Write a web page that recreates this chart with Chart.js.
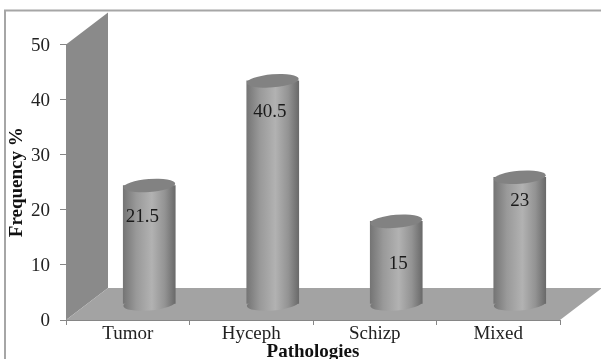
<!DOCTYPE html>
<html>
<head>
<meta charset="utf-8">
<style>
html, body { margin: 0; background: #fff; }
#wrap { position: relative; width: 601px; height: 359px; overflow: hidden; }
</style>
<script src="https://cdn.jsdelivr.net/npm/chart.js@4"></script>
</head>
<body>
<div id="wrap"><canvas id="chart" width="601" height="359"></canvas></div>
<script>
const categories = ['Tumor', 'Hyceph', 'Schizp', 'Mixed'];
const frequency = [21.5, 40.5, 15, 23];
const yTicks = [0, 10, 20, 30, 40, 50];

// pseudo-3D box: how far the back wall sits from the axes
const DEPTH_X = 42;
const DEPTH_Y = -32;
// columns stand in the middle of the floor
const COL_DX = 21.5;
const COL_DY = -16;
const COL_W = 52;
const COL_RY = 6.5;
const COL_TILT = -0.08;

// value labels are hand placed inside each column, relative to its top
const labelNudge = [[-7, 31], [-3, 31], [2, 43], [0, 24]];

function columnGradient(ctx, cx) {
    const g = ctx.createLinearGradient(cx - COL_W / 2, 0, cx + COL_W / 2, 0);
    g.addColorStop(0, '#757575');
    g.addColorStop(0.25, '#999999');
    g.addColorStop(0.55, '#b2b2b2');
    g.addColorStop(0.8, '#939393');
    g.addColorStop(1, '#6a6a6a');
    return g;
}

const box3d = {
    id: 'box3d',
    beforeDraw(chart) {
        const { ctx } = chart;
        // outer frame
        ctx.strokeStyle = '#a6a6a6';
        ctx.lineWidth = 2;
        ctx.strokeRect(5, 10.5, 640, 400);
    },
    beforeDatasetsDraw(chart) {
        const { ctx, chartArea: a } = chart;
        // left wall
        ctx.fillStyle = '#8a8a8a';
        ctx.beginPath();
        ctx.moveTo(a.left, a.top);
        ctx.lineTo(a.left + DEPTH_X, a.top + DEPTH_Y);
        ctx.lineTo(a.left + DEPTH_X, a.bottom + DEPTH_Y);
        ctx.lineTo(a.left, a.bottom);
        ctx.closePath();
        ctx.fill();
        // floor
        ctx.fillStyle = '#a3a3a3';
        ctx.beginPath();
        ctx.moveTo(a.left, a.bottom);
        ctx.lineTo(a.left + DEPTH_X, a.bottom + DEPTH_Y);
        ctx.lineTo(a.right + DEPTH_X, a.bottom + DEPTH_Y);
        ctx.lineTo(a.right, a.bottom);
        ctx.closePath();
        ctx.fill();
    },
    beforeDatasetDraw(chart) {
        const { ctx, scales } = chart;
        const base = scales.y.getPixelForValue(0);
        ctx.save();
        ctx.translate(COL_DX, COL_DY);
        // round the foot of each column before the bar body goes on top
        chart.getDatasetMeta(0).data.forEach((bar) => {
            ctx.fillStyle = columnGradient(ctx, bar.x);
            ctx.beginPath();
            ctx.ellipse(bar.x, base, COL_W / 2, COL_RY, COL_TILT, 0, Math.PI * 2);
            ctx.fill();
        });
    },
    afterDatasetDraw(chart) {
        const { ctx } = chart;
        chart.getDatasetMeta(0).data.forEach((bar, i) => {
            ctx.fillStyle = '#828282';
            ctx.beginPath();
            ctx.ellipse(bar.x, bar.y, COL_W / 2, COL_RY, COL_TILT, 0, Math.PI * 2);
            ctx.fill();
            ctx.fillStyle = '#1a1a1a';
            ctx.font = '19px "Liberation Serif"';
            ctx.textAlign = 'center';
            ctx.textBaseline = 'middle';
            ctx.fillText(String(frequency[i]), bar.x + labelNudge[i][0], bar.y + labelNudge[i][1]);
        });
        ctx.restore();
    },
    afterDraw(chart) {
        // y tick labels sit a little below their tick marks, which the axis can't do itself
        const { ctx, scales } = chart;
        ctx.fillStyle = '#222';
        ctx.font = '19px "Liberation Serif"';
        ctx.textAlign = 'right';
        ctx.textBaseline = 'middle';
        yTicks.forEach((v) => {
            ctx.fillText(String(v), 50, scales.y.getPixelForValue(v) + 1.5);
        });
    }
};

new Chart(document.getElementById('chart'), {
    type: 'bar',
    data: {
        labels: categories,
        datasets: [{
            data: frequency,
            barThickness: COL_W,
            borderWidth: 0,
            backgroundColor: (c) => {
                const x = c.chart.scales.x;
                const cx = x ? x.getPixelForValue(c.dataIndex) : NaN;
                if (!Number.isFinite(cx)) return '#999';
                return columnGradient(c.chart.ctx, cx);
            }
        }]
    },
    options: {
        responsive: false,
        animation: false,
        layout: { padding: { left: 6, top: 44.5, right: 41, bottom: 0 } },
        plugins: {
            legend: { display: false },
            tooltip: { enabled: false }
        },
        scales: {
            y: {
                min: 0,
                max: 50,
                afterBuildTicks: (axis) => { axis.ticks = yTicks.map((v) => ({ value: v })); },
                afterFit: (axis) => { axis.width = 60; },
                title: {
                    display: true,
                    text: 'Frequency %',
                    color: '#111',
                    padding: { top: 0, bottom: 0 },
                    font: { family: '"Liberation Serif"', size: 19, weight: 'bold' }
                },
                ticks: { display: false },
                grid: { drawOnChartArea: false, tickLength: 6, color: '#868686' },
                border: { color: '#868686', width: 1 }
            },
            x: {
                afterFit: (axis) => { axis.height = 39; },
                title: {
                    display: true,
                    text: 'Pathologies',
                    color: '#111',
                    padding: { top: 0, bottom: -4 },
                    font: { family: '"Liberation Serif"', size: 19, weight: 'bold' }
                },
                ticks: {
                    color: '#222',
                    padding: -2,
                    font: { family: '"Liberation Serif"', size: 19 }
                },
                grid: { drawOnChartArea: false, tickLength: 5, color: '#868686' },
                border: { color: '#868686', width: 1 }
            }
        }
    },
    plugins: [box3d]
});
</script>
</body>
</html>
